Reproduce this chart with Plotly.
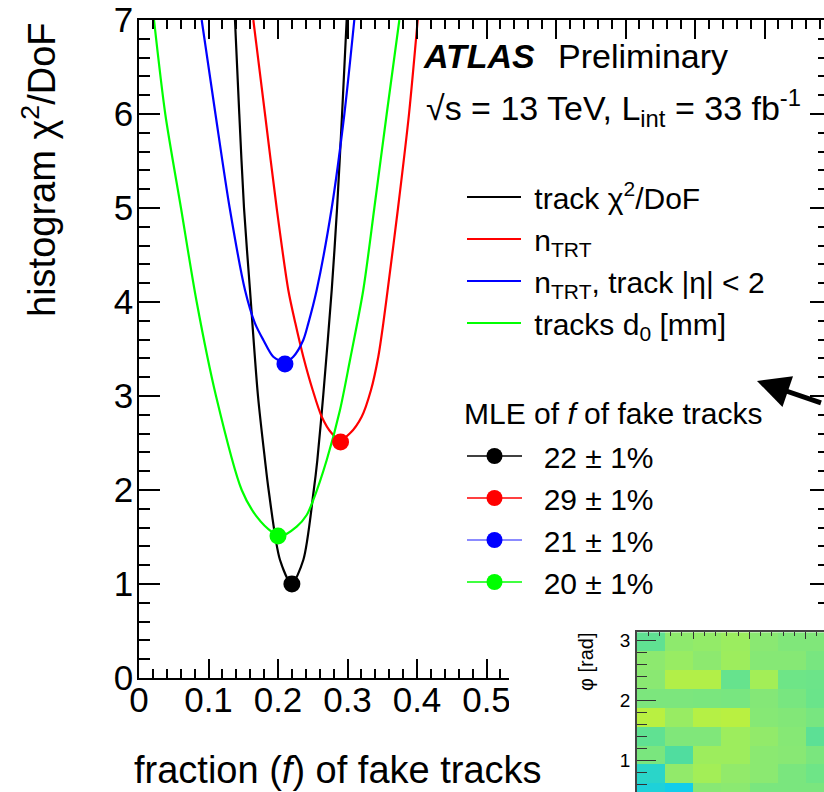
import math
import plotly.graph_objects as go

W, H = 824, 792
FONT = "Liberation Sans, Arial, Helvetica, sans-serif"

# ---------------- data ----------------
black_x = [0.1381, 0.1443, 0.1511, 0.1597, 0.1712, 0.1813, 0.1865, 0.2029, 0.2197, 0.2364, 0.2515, 0.2566, 0.2650, 0.2773, 0.2850, 0.2922, 0.2988]
black_y = [7.0, 6.0, 5.0, 4.128, 3.0, 2.319, 2.0, 1.255, 1.005, 1.255, 2.0, 2.319, 3.0, 4.128, 5.0, 6.0, 7.0]

red_x = [0.1645, 0.1813, 0.1981, 0.2148, 0.2250, 0.2364, 0.2499, 0.2629, 0.2773, 0.2892, 0.3036, 0.3204, 0.3338, 0.3443, 0.3515, 0.3578, 0.3727, 0.3885, 0.4010]
red_y = [7.0, 6.0, 5.0, 4.128, 3.773, 3.418, 3.064, 2.780, 2.603, 2.530, 2.603, 2.780, 3.064, 3.418, 3.773, 4.128, 5.0, 6.0, 7.0]

blue_x = [0.0902, 0.1100, 0.1305, 0.1525, 0.1669, 0.1789, 0.1932, 0.2101, 0.2220, 0.2364, 0.2436, 0.2557, 0.2773, 0.2955, 0.3098]
blue_y = [7.0, 6.0, 5.0, 4.128, 3.773, 3.596, 3.418, 3.360, 3.418, 3.596, 3.773, 4.128, 5.0, 6.0, 7.0]

green_x = [0.0216, 0.0378, 0.0604, 0.0830, 0.1108, 0.1478, 0.1694, 0.1909, 0.2043, 0.2269, 0.2413, 0.2508, 0.2701, 0.2892, 0.3036, 0.3227, 0.3386, 0.3564, 0.3746]
green_y = [7.0, 6.0, 5.0, 4.0, 3.0, 2.0, 1.716, 1.556, 1.511, 1.610, 1.734, 1.894, 2.319, 2.851, 3.383, 4.128, 5.0, 6.0, 7.0]

curve_names = ["track χ<sup>2</sup>/DoF", "n<sub>TRT</sub>", "n<sub>TRT</sub>, track |η| &lt; 2", "tracks d<sub>0</sub> [mm]"]
curve_colors = ["#000000", "#ff0000", "#0000ff", "#00ff00"]

# maximum-likelihood estimates (fraction, chi2/DoF at minimum)
mle_title = "MLE of <i>f</i> of fake tracks"
mle_f = [0.22, 0.29, 0.21, 0.20]
mle_chi2 = [1.00, 2.51, 3.34, 1.51]
mle_labels = ["22 ± 1%", "29 ± 1%", "21 ± 1%", "20 ± 1%"]
mle_line_colors = ["#000000", "#ff0000", "#6464ff", "#00ff00"]

# axis ticks (labels beyond 0.5 are hidden behind the inset in the original)
x_tickvals = [0, 0.1, 0.2, 0.3, 0.4, 0.5, 0.6, 0.7, 0.8, 0.9]
x_ticktext = ["0", "0.1", "0.2", "0.3", "0.4", "0.5", "", "", "", ""]
y_tickvals = [0, 1, 2, 3, 4, 5, 6, 7]

# inset eta-phi occupancy map (visible part only)
eta_edges = [-3.0, -2.5, -2.0, -1.5, -1.0, -0.5, 0.0, 0.5]
phi_edges = [round(k * math.pi / 10, 5) for k in range(1, 11)]  # 0.1pi ... pi
occupancy_top_down = [
    [0.40, 0.64, 0.67, 0.72, 0.61, 0.56, 0.56],
    [0.63, 0.70, 0.63, 0.73, 0.59, 0.59, 0.52],
    [0.61, 0.86, 0.86, 0.43, 0.77, 0.47, 0.46],
    [0.54, 0.54, 0.53, 0.52, 0.58, 0.52, 0.45],
    [0.91, 0.70, 0.88, 0.91, 0.59, 0.57, 0.52],
    [0.40, 0.56, 0.56, 0.73, 0.66, 0.59, 0.38],
    [0.53, 0.32, 0.73, 0.73, 0.62, 0.60, 0.53],
    [0.16, 0.66, 0.77, 0.66, 0.62, 0.53, 0.47],
    [0.09, 0.01, 0.60, 0.62, 0.53, 0.53, 0.53],
]
occ_colorscale = [
    [0.00, "#10ccec"], [0.15, "#28d4cc"], [0.30, "#4cdca2"], [0.45, "#6ae48a"],
    [0.60, "#88e874"], [0.75, "#a0ee5a"], [0.90, "#b8f042"], [1.00, "#c4f238"],
]

# ---------------- helpers ----------------
def px_x(p):
    return p / W

def px_y(p):
    return 1 - p / H

fig = go.Figure()

# curves
for xs, ys, name, col in zip([black_x, red_x, blue_x, green_x], [black_y, red_y, blue_y, green_y], curve_names, curve_colors):
    fig.add_trace(go.Scatter(x=xs, y=ys, mode="lines", line=dict(color=col, width=2.2, shape="spline", smoothing=0.8),
                             name="\u00a0" + name, legend="legend", hoverinfo="skip", xaxis="x", yaxis="y"))

# MLE markers
for f, c, lab, mcol, lcol in zip(mle_f, mle_chi2, mle_labels, curve_colors, mle_line_colors):
    fig.add_trace(go.Scatter(x=[f], y=[c], mode="lines+markers",
                             marker=dict(color=mcol, size=17, line=dict(width=0)),
                             line=dict(color=lcol, width=1.5),
                             name="\u00a0\u00a0" + lab, legend="legend2", hoverinfo="skip", xaxis="x", yaxis="y"))

# right-hand tick axis of the main frame (overlay)
fig.add_trace(go.Scatter(x=[], y=[], xaxis="x", yaxis="y4", showlegend=False, hoverinfo="skip"))
# white pad of the inset
fig.add_trace(go.Scatter(x=[], y=[], xaxis="x2", yaxis="y2", showlegend=False, hoverinfo="skip"))
# inset heatmap
fig.add_trace(go.Heatmap(x=eta_edges, y=phi_edges, z=occupancy_top_down[::-1], colorscale=occ_colorscale,
                         zmin=0, zmax=1, showscale=False, xaxis="x3", yaxis="y3", hoverinfo="skip"))

tick_font = dict(family=FONT, size=35, color="black")
fig.update_layout(
    width=W, height=H, margin=dict(l=0, r=0, t=0, b=0, pad=0, autoexpand=False),
    paper_bgcolor="white", plot_bgcolor="white",
    font=dict(family=FONT, color="black"),
    xaxis=dict(domain=[px_x(139), 1], range=[0, 685 / 695], anchor="y", automargin=False,
               tickmode="array", tickvals=x_tickvals, ticktext=x_ticktext,
               ticks="inside", ticklen=19, tickwidth=1.5, tickcolor="black",
               minor=dict(dtick=0.02, tick0=0, ticks="inside", ticklen=9, tickwidth=1.5, tickcolor="black"),
               showline=True, linecolor="black", linewidth=1.5, mirror="ticks",
               showgrid=False, zeroline=False, tickfont=tick_font, ticklabelstandoff=-10),
    yaxis=dict(domain=[1 - 678 / H, 1 - 20 / H], range=[0, 7], anchor="x", automargin=False,
               tickmode="linear", tick0=0, dtick=1,
               ticks="inside", ticklen=21, tickwidth=1.5, tickcolor="black",
               minor=dict(dtick=0.2, tick0=0, ticks="inside", ticklen=11, tickwidth=1.5, tickcolor="black"),
               showline=True, linecolor="black", linewidth=1.5, mirror=False,
               showgrid=False, zeroline=False, tickfont=tick_font, ticklabelstandoff=-3),
    yaxis4=dict(overlaying="y", side="right", anchor="free", position=1, range=[0, 7], automargin=False,
                tickmode="linear", tick0=0, dtick=1, showticklabels=False,
                ticks="inside", ticklen=14, tickwidth=1.5, tickcolor="black",
                minor=dict(dtick=0.2, tick0=0, ticks="inside", ticklen=6, tickwidth=1.5, tickcolor="black"),
                showline=False, showgrid=False, zeroline=False),
    xaxis2=dict(domain=[px_x(509), 1], range=[0, 1], anchor="y2", visible=False, automargin=False),
    yaxis2=dict(domain=[0, 1 - 612 / H], range=[0, 1], anchor="x2", visible=False, automargin=False),
    xaxis3=dict(domain=[px_x(637), 1], range=[-3, 0.327], anchor="y3", side="top", automargin=False,
                tickmode="linear", tick0=0, dtick=1, showticklabels=False,
                ticks="inside", ticklen=7, tickwidth=1.2, tickcolor="#333333",
                minor=dict(dtick=0.2, tick0=0, ticks="inside", ticklen=4, tickwidth=1.2, tickcolor="#333333"),
                showline=True, linecolor="#444444", linewidth=1.5, showgrid=False, zeroline=False),
    yaxis3=dict(domain=[0, 1 - 632.2 / H], range=[math.pi - 159.8 / 60, math.pi], anchor="x3", automargin=False,
                tickmode="linear", tick0=0, dtick=1,
                ticks="inside", ticklen=19, tickwidth=1.2, tickcolor="#333333",
                minor=dict(dtick=0.2, tick0=0, ticks="inside", ticklen=10, tickwidth=1.2, tickcolor="#333333"),
                showline=True, linecolor="#444444", linewidth=1.5, showgrid=False, zeroline=False,
                tickfont=dict(family=FONT, size=19, color="black"), ticklabelstandoff=1),
    legend=dict(x=px_x(462), y=px_y(171), xanchor="left", yanchor="top", bgcolor="rgba(0,0,0,0)",
                font=dict(family=FONT, size=30, color="black"), itemwidth=54, tracegroupgap=0,
                itemclick=False, itemdoubleclick=False),
    legend2=dict(x=px_x(462), y=px_y(430), xanchor="left", yanchor="top", bgcolor="rgba(0,0,0,0)",
                 font=dict(family=FONT, size=30, color="black"), itemwidth=55, tracegroupgap=0,
                 itemclick=False, itemdoubleclick=False),
    showlegend=True,
)

annotations = [
    dict(text="<b><i>ATLAS</i></b>", x=px_x(421), y=px_y(56), xanchor="left", yanchor="middle",
         font=dict(family=FONT, size=34, color="black")),
    dict(text="Preliminary", x=px_x(556), y=px_y(56), xanchor="left", yanchor="middle",
         font=dict(family=FONT, size=34, color="black")),
    dict(text="√s = 13 TeV, L<sub>int</sub> = 33 fb<sup>-1</sup>", x=px_x(424), y=px_y(108), xanchor="left",
         yanchor="middle", font=dict(family=FONT, size=34, color="black")),
    dict(text=mle_title, x=px_x(462), y=px_y(413), xanchor="left", yanchor="middle",
         font=dict(family=FONT, size=30, color="black")),
    dict(text="histogram χ<sup>2</sup>/DoF", textangle=-90, x=px_x(39), y=px_y(170), xanchor="center",
         yanchor="middle", font=dict(family=FONT, size=38, color="black")),
    dict(text="fraction (<i>f</i>) of fake tracks", x=px_x(338), y=px_y(770), xanchor="center",
         yanchor="middle", font=dict(family=FONT, size=38, color="black")),
    dict(text="φ [rad]", textangle=-90, x=px_x(586), y=px_y(662), xanchor="center", yanchor="middle",
         font=dict(family=FONT, size=20, color="black")),
    dict(text=" ", x=(757 - 139) / 695, y=(678 - 381) / 94, xref="x", yref="y", showarrow=True,
         ax=95, ay=23, arrowhead=2, arrowsize=1.3, arrowwidth=5, arrowcolor="black", standoff=0),
]
for a in annotations:
    a.setdefault("xref", "paper")
    a.setdefault("yref", "paper")
    a.setdefault("showarrow", False)
fig.update_layout(annotations=annotations)

fig.write_html("out.html")
